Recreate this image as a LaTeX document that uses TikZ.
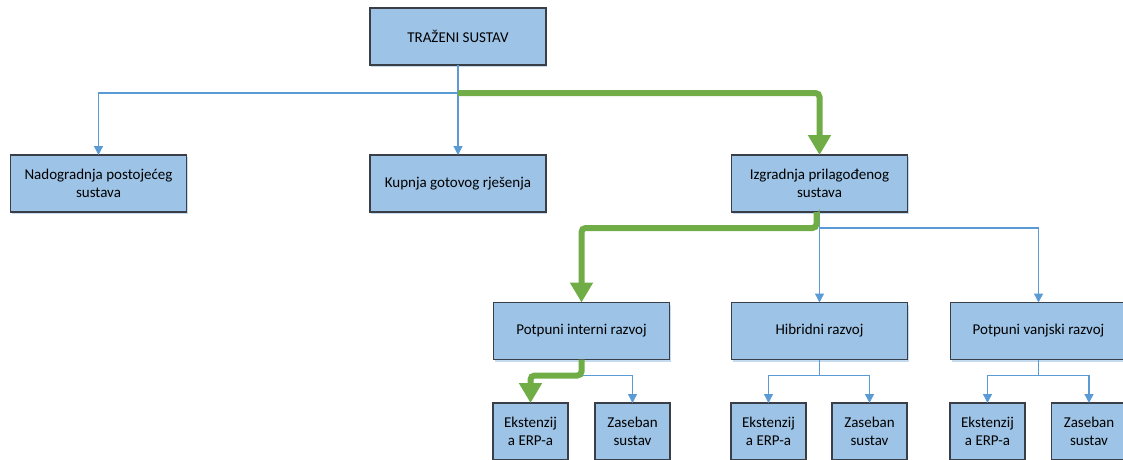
\documentclass[tikz,border=0pt]{standalone}
\usepackage{fontspec}
\setmainfont{Carlito}
\usepackage{tikz}
\usetikzlibrary{calc}
\usetikzlibrary{arrows.meta,shadows}
\definecolor{boxfill}{HTML}{9DC3E6}
\definecolor{boxline}{HTML}{3A3F47}
\definecolor{linkblue}{HTML}{5B9BD5}
\definecolor{pathgreen}{HTML}{70AD47}
\tikzset{
  box/.style={draw=boxline, line width=1.2pt, fill=boxfill, align=center,
    minimum width=176pt, minimum height=57pt, inner sep=0pt, outer sep=0pt,
    font=\fontsize{15}{18.5}\selectfont,
    drop shadow={shadow xshift=1pt, shadow yshift=-2pt, fill=boxfill!60, opacity=1}},
  smallbox/.style={box, minimum width=75pt},
  link/.style={draw=linkblue, line width=1.3pt, -{Triangle[length=9pt,width=9pt]}},
  plain/.style={draw=linkblue, line width=1.3pt},
  chosen/.style={draw=pathgreen, line width=6pt, rounded corners=4pt,
    -{Triangle[length=20pt,width=22pt]}},
}
\begin{document}
\begin{tikzpicture}[x=1pt,y=-1pt]
  \useasboundingbox (0,0) rectangle (1123,459);
  \clip (0,0) rectangle (1123,459);

  \node[box] (top) at (458,36.5) {TRAŽENI SUSTAV};

  % second level
  \node[box, node distance=147pt] (kup) [below of=top] {Kupnja gotovog rješenja};
  \node[box, node distance=359.5pt] (nad) [left of=kup] {Nadogradnja postojećeg\\sustava};
  \node[box, node distance=361.5pt] (izg) [right of=kup] {Izgradnja prilagođenog\\sustava};

  % third level
  \node[box, node distance=147.5pt] (hib) [below of=izg] {Hibridni razvoj};
  \node[box, node distance=238pt] (int) [left of=hib] {Potpuni interni razvoj};
  \node[box, node distance=219pt] (van) [right of=hib] {Potpuni vanjski razvoj};

  % fourth level
  \coordinate[node distance=100.5pt, below of=int] (intD);
  \node[smallbox, node distance=51pt] (intE) [left of=intD] {Ekstenzij\\a ERP-a};
  \node[smallbox, node distance=51pt] (intZ) [right of=intD] {Zaseban\\sustav};
  \coordinate[node distance=100.5pt, below of=hib] (hibD);
  \node[smallbox, node distance=51pt] (hibE) [left of=hibD] {Ekstenzij\\a ERP-a};
  \node[smallbox, node distance=50pt] (hibZ) [right of=hibD] {Zaseban\\sustav};
  \coordinate[node distance=100.5pt, below of=van] (vanD);
  \node[smallbox, node distance=51pt] (vanE) [left of=vanD] {Ekstenzij\\a ERP-a};
  \node[smallbox, node distance=50.5pt] (vanZ) [right of=vanD] {Zaseban\\sustav};

  \coordinate (j0) at ($(top.south)+(0,28)$);
  \coordinate (j1) at ($(izg.south)+(0,16)$);
  \coordinate (j2) at ($(int.south)+(0,16)$);
  \coordinate (j3) at ($(hib.south)+(0,16)$);
  \coordinate (j4) at ($(van.south)+(0,16)$);

  \draw[link] (top) -- (kup);
  \draw[link] (j0) -| (nad.north);

  \draw[link] (izg) -- (hib);
  \draw[link] (j1) -| (van.north);

  \draw[plain] (int.south) -- (j2);
  \draw[link] (j2) -| (intZ.north);
  \draw[plain] (hib.south) -- (j3);
  \draw[link] (j3) -| (hibE.north);
  \draw[link] (j3) -| (hibZ.north);
  \draw[plain] (van.south) -- (j4);
  \draw[link] (j4) -| (vanE.north);
  \draw[link] (j4) -| (vanZ.north);

  % the chosen path
  \draw[chosen] (j0) -| (izg.north);
  \draw[chosen] ([xshift=-3pt]izg.south) |- ($(j1)+(-3,0)$) -| (int.north);
  \draw[chosen] (int.south) -- (j2) -| (intE.north);
\end{tikzpicture}
\end{document}
